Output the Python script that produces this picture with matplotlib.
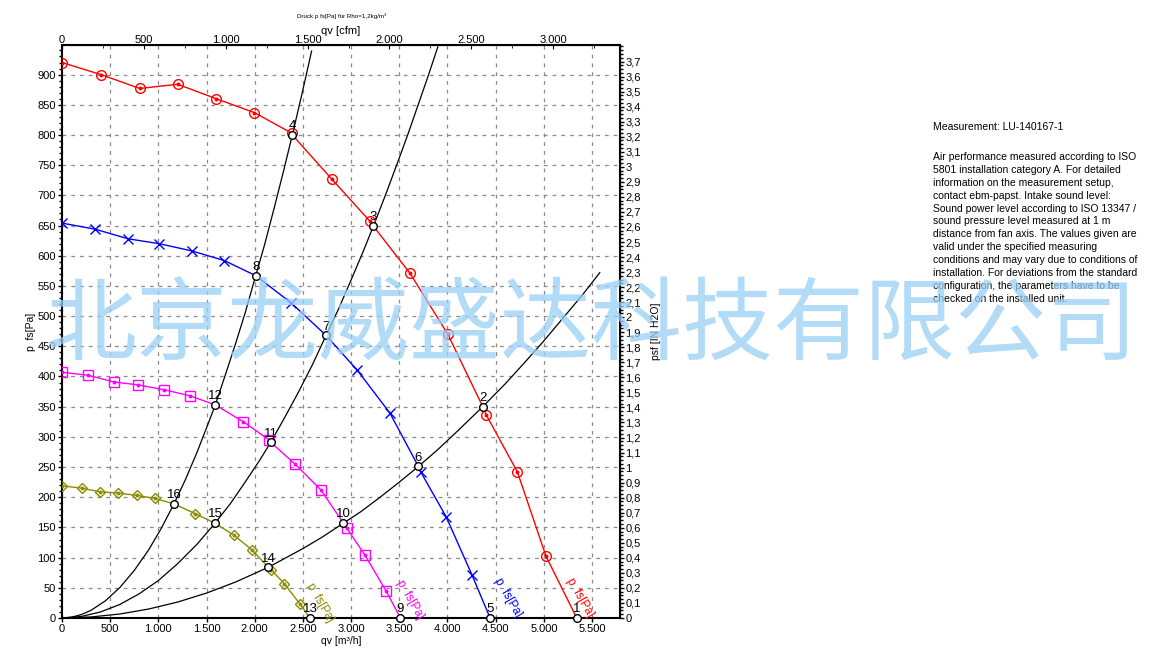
import numpy as np
import matplotlib.pyplot as plt
from matplotlib.ticker import MultipleLocator, FixedLocator, FuncFormatter

plt.rcParams['font.family'] = ['Liberation Sans', 'DejaVu Sans']

# fan curves (marker points), qv in m3/h, p_fs in Pa
q_red = [0, 405, 806, 1200, 1601, 1996, 2384, 2799, 3196, 3611, 4003, 4400, 4725, 5023]
p_red = [920, 900, 877, 884, 860, 837, 803, 727, 657, 571, 470, 337, 242, 102]

q_blue = [0, 342, 688, 1007, 1346, 1684, 2377, 3066, 3404, 3722, 3985, 4255]
p_blue = [654, 644, 628, 620, 608, 592, 522, 410, 339, 242, 168, 71]

q_mag = [0, 273, 536, 792, 1062, 1328, 1882, 2150, 2418, 2688, 2955, 3144, 3362]
p_mag = [407, 402, 391, 386, 378, 368, 325, 295, 255, 212, 149, 104, 45]

q_olive = [0, 204, 394, 578, 781, 965, 1380, 1785, 1970, 2169, 2307, 2465]
p_olive = [219, 215, 209, 207, 203, 198, 173, 137, 113, 80, 57, 24]

# operating points 1..16
op_q = [5341, 4366, 3231, 2390, 4442, 3698, 2740, 2010, 3512, 2920, 2166, 1591, 2574, 2141, 1588, 1162]
op_p = [0, 350, 649, 800, 0, 251, 468, 567, 0, 157, 291, 353, 0, 84, 157, 189]
op_lbl = [str(i) for i in range(1, 17)]

# system curves (black)
sysA_q = [0, 100, 200, 300, 450, 600, 750, 900, 1030, 1162, 1280, 1400, 1500, 1591, 1700, 1800, 1900,
          2010, 2100, 2200, 2300, 2390, 2490, 2590]
sysA_p = [0, 1.4, 5.6, 12.6, 28.4, 50.4, 78.8, 113, 148.5, 189, 229, 274, 315, 353, 405, 454, 505,
          567, 617, 678, 741, 800, 868, 939]
sysB_q = [0, 200, 400, 600, 800, 1000, 1200, 1400, 1588, 1750, 1900, 2050, 2166, 2300, 2450, 2600,
          2740, 2870, 3000, 3120, 3231, 3360, 3500, 3600, 3700, 3800, 3900]
sysB_p = [0, 2.5, 10, 22.4, 40, 62, 90, 122, 157, 190, 225, 261, 291, 329, 373, 420,
          468, 512, 560, 605, 649, 702, 762, 806, 852, 898, 946]
sysC_q = [0, 300, 600, 900, 1200, 1500, 1800, 2141, 2500, 2700, 2920, 3100, 3300, 3500, 3698, 3900,
          4100, 4366, 4600, 4800, 5000, 5200, 5400, 5580]
sysC_p = [0, 1.7, 6.6, 14.9, 26.4, 41.3, 59.5, 84, 115, 134, 157, 176, 200, 225, 251, 279,
          309, 350, 388, 423, 459, 497, 535, 572]

fig = plt.figure(figsize=(11.55, 6.53), dpi=100)
ax = fig.add_axes([62 / 1155, 35 / 653, 558 / 1155, 573 / 653])
ax.set_xlim(0, 5790)
ax.set_ylim(0, 949)

thousands = FuncFormatter(lambda v, _: f"{int(round(v)):,}".replace(',', '.'))
ax.xaxis.set_major_locator(MultipleLocator(500))
ax.yaxis.set_major_locator(FixedLocator(np.arange(0, 901, 50)))
ax.yaxis.set_minor_locator(MultipleLocator(10))
ax.xaxis.set_major_formatter(thousands)
ax.grid(True, which='major', color='#8a8a8a', linestyle=(0, (3, 4)), linewidth=0.9)
ax.tick_params(which='both', direction='out', labelsize=8, width=1, pad=1.5)
ax.tick_params(which='major', length=3)
ax.tick_params(which='minor', length=2.5)
for s in ax.spines.values():
    s.set_linewidth(1.5)

for sq, sp in [(sysA_q, sysA_p), (sysB_q, sysB_p), (sysC_q, sysC_p)]:
    ax.plot(sq, sp, color='black', lw=0.9, zorder=3)

curves = [
    (q_red, p_red, '#ff0000', 'o', 7, range(0, 4)),
    (q_blue, p_blue, '#0000ff', 'x', 7, range(4, 8)),
    (q_mag, p_mag, '#ff00ff', 's', 7, range(8, 12)),
    (q_olive, p_olive, '#8c8c00', 'D', 5, range(12, 16)),
]
for cq, cp, col, mk, ms, idx in curves:
    lq = list(cq) + [op_q[i] for i in idx]
    lp = list(cp) + [op_p[i] for i in idx]
    order = np.argsort(lq)
    ax.plot(np.array(lq)[order], np.array(lp)[order], color=col, lw=1, zorder=4)
    ax.plot(cq, cp, ls='none', marker=mk, ms=ms, mfc='none', mec=col, mew=1, zorder=5)
    if mk != 'x':
        ax.plot(cq, cp, ls='none', marker='o', ms=1.8, color=col, zorder=5)

ax.plot(op_q, op_p, ls='none', marker='o', ms=5.5, mfc='white', mec='black', mew=1, zorder=6, clip_on=False)
for q, p, t in zip(op_q, op_p, op_lbl):
    ax.annotate(t, (q, p), xytext=(0, 2), textcoords='offset points', ha='center', va='bottom',
                fontsize=9.5, zorder=7)

# curve labels
lbl_pos = [(5240, 62, '#ff0000'), (4490, 62, '#0000ff'), (3470, 58, '#ff00ff'), (2540, 53, '#8c8c00')]
for q, p, col in lbl_pos:
    ax.text(q, p, 'p  fs[Pa]', color=col, fontsize=8.5, rotation=-60, rotation_mode='anchor',
            ha='left', va='baseline', zorder=7)

ax.set_xlabel('qv [m³/h]', fontsize=7.5, labelpad=1)
ax.set_ylabel('p  fs[Pa]', fontsize=7.5, labelpad=1)

top = ax.secondary_xaxis('top', functions=(lambda x: x / 1.699, lambda x: x * 1.699))
top.xaxis.set_major_locator(MultipleLocator(500))
top.xaxis.set_minor_locator(MultipleLocator(250))
top.xaxis.set_major_formatter(thousands)
top.tick_params(which='both', direction='in', labelsize=8, pad=0)
top.tick_params(which='major', length=3)
top.tick_params(which='minor', length=2)
top.set_xlabel('qv [cfm]', fontsize=8, labelpad=1)

right = ax.secondary_yaxis('right', functions=(lambda y: y / 249.089, lambda y: y * 249.089))
right.yaxis.set_major_locator(FixedLocator(np.arange(0, 3.71, 0.1)))
right.yaxis.set_minor_locator(MultipleLocator(0.025))
right.yaxis.set_major_formatter(FuncFormatter(lambda v, _: f"{round(v, 1):g}".replace('.', ',')))
right.tick_params(which='both', direction='out', labelsize=8, width=1, pad=1)
right.tick_params(which='major', length=3)
right.tick_params(which='minor', length=2)
right.set_ylabel('psf [IN H2O]', fontsize=7.5, labelpad=7)

fig.text(342 / 1155, 1 - 16 / 653, 'Druck p fs[Pa] für Rho=1,2kg/m³', fontsize=4.5, ha='center', va='center')

fig.text(933 / 1155, 1 - 127 / 653, 'Measurement: LU-140167-1', fontsize=7.5, ha='left', va='center')
para = ("Air performance measured according to ISO\n"
        "5801 installation category A. For detailed\n"
        "information on the measurement setup,\n"
        "contact ebm-papst. Intake sound level:\n"
        "Sound power level according to ISO 13347 /\n"
        "sound pressure level measured at 1 m\n"
        "distance from fan axis. The values given are\n"
        "valid under the specified measuring\n"
        "conditions and may vary due to conditions of\n"
        "installation. For deviations from the standard\n"
        "configuration, the parameters have to be\n"
        "checked on the installed unit.")
fig.text(933 / 1155, 1 - 152 / 653, para, fontsize=7.5, ha='left', va='top', linespacing=1.36)

fig.text(592 / 1155, 1 - 327 / 653, '北京龙威盛达科技有限公司', fontsize=65.5, color='#98d0f6',
         family=['Noto Sans CJK SC', 'DejaVu Sans'], ha='center', va='center', alpha=0.75, zorder=10)

fig.savefig('out.png', dpi=100)
